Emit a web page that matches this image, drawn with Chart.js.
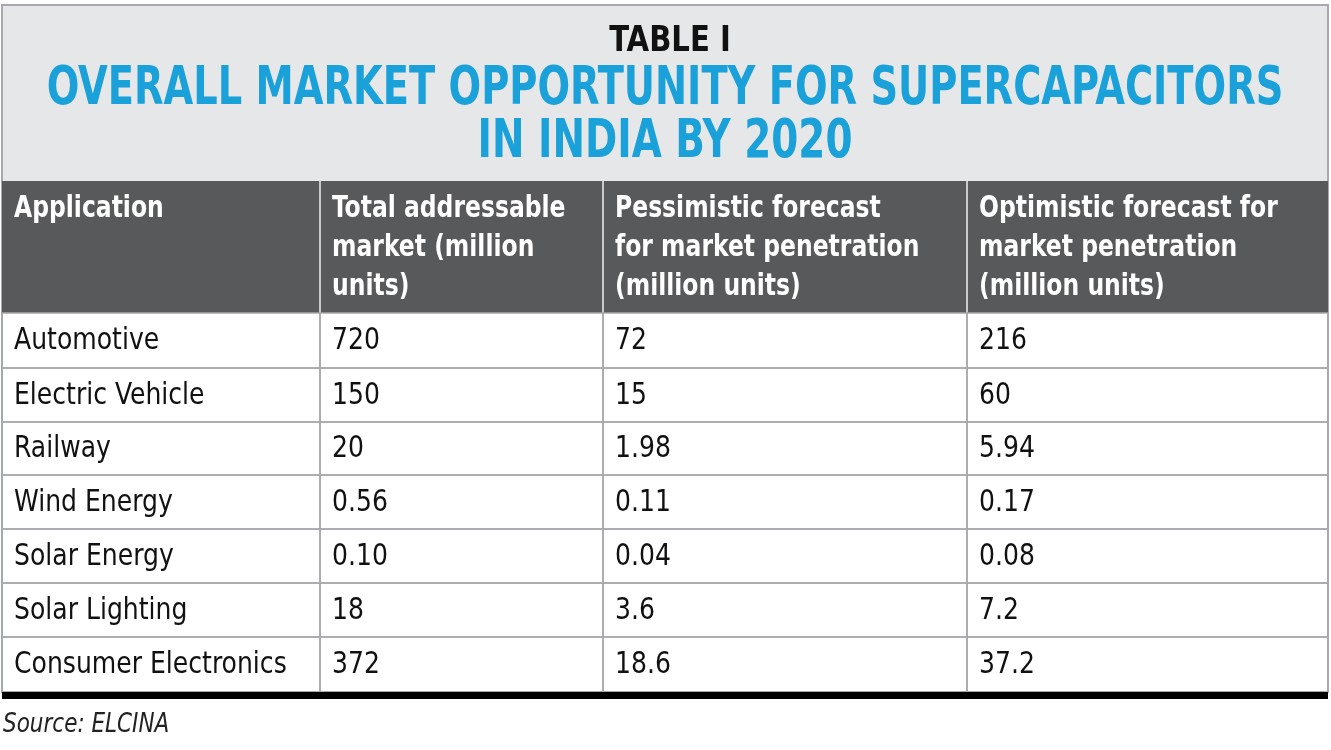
<!DOCTYPE html>
<html><head><meta charset="utf-8">
<script src="https://cdn.jsdelivr.net/npm/chart.js@4/dist/chart.umd.min.js"></script>
<style>html,body{margin:0;padding:0;background:#fff}#w{width:1331px;height:750px}</style>
</head><body><div id="w"><canvas id="c"></canvas></div>
<script>
const tableLabel = "TABLE I";
const titleLines = ["OVERALL MARKET OPPORTUNITY FOR SUPERCAPACITORS", "IN INDIA BY 2020"];
const headers = [["Application"], ["Total addressable", "market (million", "units)"], ["Pessimistic forecast", "for market penetration", "(million units)"], ["Optimistic forecast for", "market penetration", "(million units)"]];
const categories = ["Automotive", "Electric Vehicle", "Railway", "Wind Energy", "Solar Energy", "Solar Lighting", "Consumer Electronics"];
const totalMarket = ["720", "150", "20", "0.56", "0.10", "18", "372"];
const pessimistic = ["72", "15", "1.98", "0.11", "0.04", "3.6", "18.6"];
const optimistic = ["216", "60", "5.94", "0.17", "0.08", "7.2", "37.2"];
const source = "Source: ELCINA";
const colEdges = [2, 320, 603, 967, 1328];
const rowEdges = [313, 368, 422, 475, 529, 583, 637, 692];

const F = '"DejaVu Sans Condensed","Liberation Sans Narrow",sans-serif';
function txt(ctx, s, x, y, sx, align) {
  ctx.save(); ctx.translate(x, y); ctx.scale(sx, 1); ctx.textAlign = align; ctx.fillText(s, 0, 0); ctx.restore();
}
const tablePlugin = {
  id: 'table',
  afterDraw(chart) {
    const ctx = chart.ctx, xs = chart.scales.x, ys = chart.scales.y;
    const X = v => xs.getPixelForValue(v), Y = v => ys.getPixelForValue(v);
    ctx.save();
    ctx.fillStyle = '#e6e7e8'; ctx.fillRect(X(2), Y(5), X(1328) - X(2), Y(181) - Y(5));
    ctx.strokeStyle = '#a7a9ac'; ctx.lineWidth = 2; ctx.strokeRect(X(2), Y(5), X(1328) - X(2), Y(692) - Y(5));
    ctx.textBaseline = 'middle';
    ctx.fillStyle = '#111'; ctx.font = 'bold 36px ' + F; txt(ctx, tableLabel, X(670), Y(42), 0.9, 'center');
    ctx.fillStyle = '#1ba1da'; ctx.font = 'bold 54px ' + F;
    txt(ctx, titleLines[0], X(665), Y(90), 0.79, 'center'); txt(ctx, titleLines[1], X(665), Y(143), 0.8, 'center');
    ctx.fillStyle = '#58595b'; ctx.fillRect(X(2), Y(181), X(1328) - X(2), Y(313) - Y(181));
    ctx.fillStyle = '#fff'; ctx.font = 'bold 30px ' + F;
    headers.forEach((h, c) => h.forEach((t, i) => txt(ctx, t, X(colEdges[c] + 12), Y(209 + i * 39), 0.87, 'left')));
    ctx.strokeStyle = '#c8c9cb'; ctx.lineWidth = 2;
    for (let c = 1; c < 4; c++) { ctx.beginPath(); ctx.moveTo(X(colEdges[c]), Y(181)); ctx.lineTo(X(colEdges[c]), Y(313)); ctx.stroke(); }
    ctx.strokeStyle = '#a7a9ac'; ctx.lineWidth = 1.5;
    for (let r = 0; r < categories.length; r++) {
      for (let c = 0; c < 4; c++) ctx.strokeRect(X(colEdges[c]), Y(rowEdges[r]), X(colEdges[c+1]) - X(colEdges[c]), Y(rowEdges[r+1]) - Y(rowEdges[r]));
      const vals = [categories[r], totalMarket[r], pessimistic[r], optimistic[r]];
      ctx.fillStyle = '#111'; ctx.font = '30px ' + F;
      const yc = (rowEdges[r] + rowEdges[r+1]) / 2 + 1;
      vals.forEach((v, c) => txt(ctx, v, X(colEdges[c] + 12), Y(yc), 0.93, 'left'));
    }
    ctx.fillStyle = '#000'; ctx.fillRect(X(2), Y(692), X(1328) - X(2), Y(699) - Y(692));
    ctx.fillStyle = '#222'; ctx.font = 'italic 26px ' + F; txt(ctx, source, X(3), Y(725), 0.92, 'left');
    ctx.restore();
  }
};
new Chart(document.getElementById('c'), {
  type: 'scatter',
  data: { datasets: [{ data: [] }] },
  options: {
    responsive: true, maintainAspectRatio: false, animation: false,
    layout: { padding: 0 },
    plugins: { legend: { display: false }, tooltip: { enabled: false } },
    scales: {
      x: { type: 'linear', min: 0, max: 1331, display: false },
      y: { type: 'linear', min: 0, max: 750, reverse: true, display: false }
    }
  },
  plugins: [tablePlugin]
});
</script></body></html>
